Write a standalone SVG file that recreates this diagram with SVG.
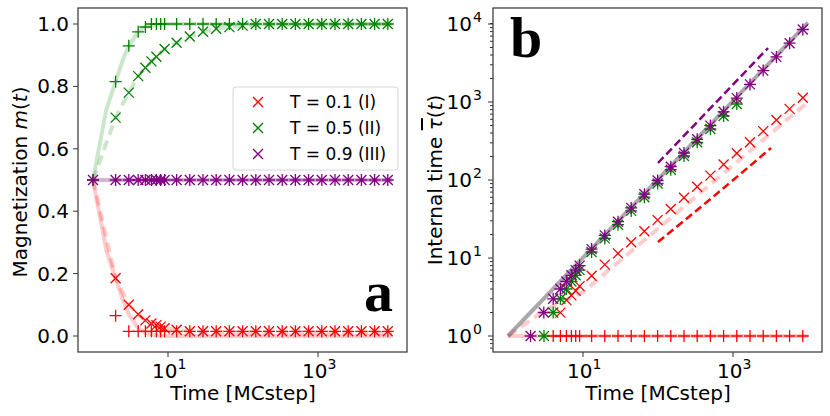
<svg xmlns="http://www.w3.org/2000/svg" xmlns:xlink="http://www.w3.org/1999/xlink" width="830" height="416" viewBox="0 0 830 416">
<style>
text{font-family:"DejaVu Sans",sans-serif;fill:#000}
.tk{font-size:20px}
.lab{font-size:20px;text-anchor:middle}
.lg{font-size:17px}
.ax{fill:none;stroke:#333;stroke-width:1.2}
.t{stroke:#333;stroke-width:1}
.r{stroke:#ff0000;fill:none;stroke-width:1.3}
.g{stroke:#008000;fill:none;stroke-width:1.3}
.p{stroke:#800080;fill:none;stroke-width:1.3}
.cr{stroke:#ff0000;opacity:.2;stroke-width:4;fill:none}
.cg{stroke:#008000;opacity:.2;stroke-width:4;fill:none}
.cp{stroke:#800080;opacity:.3;stroke-width:4;fill:none}
.d{stroke-dasharray:10,6}
.big{font-family:"Liberation Serif",serif;font-weight:bold;font-size:58px}
</style>
<defs>
<path id="x" d="M-5,-5L5,5M-5,5L5,-5"/>
<path id="pl" d="M-6,0H6M0,-6V6"/>
</defs>
<rect width="830" height="416" fill="#fff"/>
<g id="panel-a">
<rect class="ax" x="78" y="8" width="329" height="344"/>
<g class="t">
<path d="M78,24h-5M78,86.4h-5M78,148.8h-5M78,211.2h-5M78,273.6h-5M78,336h-5M168,352v5M318,352v5"/>
</g>
<g class="tk" text-anchor="end">
<text x="69" y="31">1.0</text><text x="69" y="93">0.8</text><text x="69" y="156">0.6</text><text x="69" y="218">0.4</text><text x="69" y="281">0.2</text><text x="69" y="343">0.0</text>
</g>
<text class="tk" x="152" y="378">10<tspan font-size="14" dy="-9">1</tspan></text>
<text class="tk" x="302" y="378">10<tspan font-size="14" dy="-9">3</tspan></text>
<text class="lab" x="243" y="400">Time [MCstep]</text>
<text class="lab" transform="translate(27,182) rotate(-90)">Magnetization <tspan font-style="italic">m</tspan>(<tspan font-style="italic">t</tspan>)</text>
<g id="curves-a">
<polyline class="cg" points="93,180 106.2,110 115.6,81.7 122.8,60 128.8,45.8 138.2,31.8 145.4,27 156.4,24.6 168,24 392,24"/>
<polyline class="cg d" points="93,180 115.6,117.6 128.8,92.6 138.2,76.1 151.4,61.4 164.6,49 176.6,42.7 189.8,36.5 203,31.8 216,28.7 229,27.1 256,25 392,24"/>
<polyline class="cr" points="93,180 106.2,250 115.6,278.3 122.8,300 128.8,314.2 138.2,328.2 145.4,333 156.4,335.4 168,336 392,336"/>
<polyline class="cr d" points="93,180 115.6,278.3 128.8,304.8 138.2,314.2 145.4,320.4 156.4,325.1 164.6,328.2 176.6,330 203,332 392,333"/>
<polyline class="cp" points="93,180 392,180"/>
</g>
<g id="markers-a">
<g class="g">
<use href="#pl" x="93" y="180"/><use href="#pl" x="115.6" y="81.7"/><use href="#pl" x="128.8" y="45.8"/><use href="#pl" x="138.2" y="31.8"/><use href="#pl" x="145.4" y="27"/><use href="#pl" x="151.4" y="24"/><use href="#pl" x="156.4" y="24"/><use href="#pl" x="160.7" y="24"/><use href="#pl" x="164.6" y="24"/><use href="#pl" x="176.6" y="24"/><use href="#pl" x="189.8" y="24"/><use href="#pl" x="203" y="24"/><use href="#pl" x="216.2" y="24"/><use href="#pl" x="229.4" y="24"/><use href="#pl" x="242.6" y="24"/><use href="#pl" x="255.8" y="24"/><use href="#pl" x="269" y="24"/><use href="#pl" x="282.2" y="24"/><use href="#pl" x="295.4" y="24"/><use href="#pl" x="308.6" y="24"/><use href="#pl" x="321.8" y="24"/><use href="#pl" x="335" y="24"/><use href="#pl" x="348.2" y="24"/><use href="#pl" x="361.4" y="24"/><use href="#pl" x="374.6" y="24"/><use href="#pl" x="387.8" y="24"/>
<use href="#x" x="115.6" y="117.6"/><use href="#x" x="128.8" y="92.6"/><use href="#x" x="138.2" y="76.1"/><use href="#x" x="145.4" y="67.7"/><use href="#x" x="151.4" y="61.4"/><use href="#x" x="156.4" y="56.8"/><use href="#x" x="164.6" y="49"/><use href="#x" x="176.6" y="42.7"/><use href="#x" x="189.8" y="36.5"/><use href="#x" x="203" y="31.8"/><use href="#x" x="216.2" y="28.7"/><use href="#x" x="229.4" y="27.1"/><use href="#x" x="242.6" y="25.6"/><use href="#x" x="255.8" y="24"/><use href="#x" x="269" y="24"/><use href="#x" x="282.2" y="24"/><use href="#x" x="295.4" y="24"/><use href="#x" x="308.6" y="24"/><use href="#x" x="321.8" y="24"/><use href="#x" x="335" y="24"/><use href="#x" x="348.2" y="24"/><use href="#x" x="361.4" y="24"/><use href="#x" x="374.6" y="24"/><use href="#x" x="387.8" y="24"/>
</g>
<g class="r">
<use href="#pl" x="115.6" y="315.7"/><use href="#pl" x="128.8" y="331.3"/><use href="#pl" x="138.2" y="331.3"/><use href="#pl" x="145.4" y="331.3"/><use href="#pl" x="151.4" y="331.3"/><use href="#pl" x="156.4" y="331.3"/><use href="#pl" x="160.7" y="331.3"/><use href="#pl" x="164.6" y="331.3"/><use href="#pl" x="176.6" y="331.3"/><use href="#pl" x="189.8" y="331.3"/><use href="#pl" x="203" y="331.3"/><use href="#pl" x="216.2" y="331.3"/><use href="#pl" x="229.4" y="331.3"/><use href="#pl" x="242.6" y="331.3"/><use href="#pl" x="255.8" y="331.3"/><use href="#pl" x="269" y="331.3"/><use href="#pl" x="282.2" y="331.3"/><use href="#pl" x="295.4" y="331.3"/><use href="#pl" x="308.6" y="331.3"/><use href="#pl" x="321.8" y="331.3"/><use href="#pl" x="335" y="331.3"/><use href="#pl" x="348.2" y="331.3"/><use href="#pl" x="361.4" y="331.3"/><use href="#pl" x="374.6" y="331.3"/><use href="#pl" x="387.8" y="331.3"/>
<use href="#x" x="115.6" y="278.3"/><use href="#x" x="128.8" y="304.8"/><use href="#x" x="138.2" y="314.2"/><use href="#x" x="145.4" y="320.4"/><use href="#x" x="151.4" y="323.5"/><use href="#x" x="156.4" y="325.1"/><use href="#x" x="160.7" y="326.6"/><use href="#x" x="164.6" y="328.2"/><use href="#x" x="176.6" y="329.8"/><use href="#x" x="189.8" y="331.3"/><use href="#x" x="203" y="331.3"/><use href="#x" x="216.2" y="331.3"/><use href="#x" x="229.4" y="331.3"/><use href="#x" x="242.6" y="331.3"/><use href="#x" x="255.8" y="331.3"/><use href="#x" x="269" y="331.3"/><use href="#x" x="282.2" y="331.3"/><use href="#x" x="295.4" y="331.3"/><use href="#x" x="308.6" y="331.3"/><use href="#x" x="321.8" y="331.3"/><use href="#x" x="335" y="331.3"/><use href="#x" x="348.2" y="331.3"/><use href="#x" x="361.4" y="331.3"/><use href="#x" x="374.6" y="331.3"/><use href="#x" x="387.8" y="331.3"/>
</g>
<g class="p">
<use href="#pl" x="93" y="180"/><use href="#pl" x="115.6" y="180"/><use href="#pl" x="128.8" y="180"/><use href="#pl" x="138.2" y="180"/><use href="#pl" x="145.4" y="180"/><use href="#pl" x="151.4" y="180"/><use href="#pl" x="156.4" y="180"/><use href="#pl" x="160.7" y="180"/><use href="#pl" x="164.6" y="180"/><use href="#pl" x="176.6" y="180"/><use href="#pl" x="189.8" y="180"/><use href="#pl" x="203" y="180"/><use href="#pl" x="216.2" y="180"/><use href="#pl" x="229.4" y="180"/><use href="#pl" x="242.6" y="180"/><use href="#pl" x="255.8" y="180"/><use href="#pl" x="269" y="180"/><use href="#pl" x="282.2" y="180"/><use href="#pl" x="295.4" y="180"/><use href="#pl" x="308.6" y="180"/><use href="#pl" x="321.8" y="180"/><use href="#pl" x="335" y="180"/><use href="#pl" x="348.2" y="180"/><use href="#pl" x="361.4" y="180"/><use href="#pl" x="374.6" y="180"/><use href="#pl" x="387.8" y="180"/>
<use href="#x" x="93" y="180"/><use href="#x" x="115.6" y="180"/><use href="#x" x="128.8" y="180"/><use href="#x" x="138.2" y="180"/><use href="#x" x="145.4" y="180"/><use href="#x" x="151.4" y="180"/><use href="#x" x="156.4" y="180"/><use href="#x" x="160.7" y="180"/><use href="#x" x="164.6" y="180"/><use href="#x" x="176.6" y="180"/><use href="#x" x="189.8" y="180"/><use href="#x" x="203" y="180"/><use href="#x" x="216.2" y="180"/><use href="#x" x="229.4" y="180"/><use href="#x" x="242.6" y="180"/><use href="#x" x="255.8" y="180"/><use href="#x" x="269" y="180"/><use href="#x" x="282.2" y="180"/><use href="#x" x="295.4" y="180"/><use href="#x" x="308.6" y="180"/><use href="#x" x="321.8" y="180"/><use href="#x" x="335" y="180"/><use href="#x" x="348.2" y="180"/><use href="#x" x="361.4" y="180"/><use href="#x" x="374.6" y="180"/><use href="#x" x="387.8" y="180"/>
</g>
</g>
<g id="legend">
<rect x="233" y="87" width="165" height="83" rx="3" fill="#fff" fill-opacity="0.8" stroke="#d6d6d6"/>
<use class="r" href="#x" x="258" y="102"/><use class="g" href="#x" x="258" y="128"/><use class="p" href="#x" x="258" y="154"/>
<text class="lg" x="290" y="108">T = 0.1 (I)</text>
<text class="lg" x="290" y="134">T = 0.5 (II)</text>
<text class="lg" x="290" y="160">T = 0.9 (III)</text>
</g>
<text class="big" x="364" y="311">a</text>
</g>
<g id="panel-b">
<rect class="ax" x="493" y="8" width="329" height="344"/>
<g class="t">
<path d="M493,336h-5M493,258h-5M493,180h-5M493,102h-5M493,24h-5M583,352v5M733,352v5"/>
<path d="M493,339.6h-3M493,343.6h-3M493,348.1h-3M493,23.5h-3"/>
<path d="M493,312.5h-3M493,298.8h-3M493,289h-3M493,281.5h-3M493,275.3h-3M493,270.1h-3M493,265.6h-3M493,261.6h-3"/>
<path d="M493,234.5h-3M493,220.8h-3M493,211h-3M493,203.5h-3M493,197.3h-3M493,192.1h-3M493,187.6h-3M493,183.6h-3"/>
<path d="M493,156.5h-3M493,142.8h-3M493,133h-3M493,125.5h-3M493,119.3h-3M493,114.1h-3M493,109.6h-3M493,105.6h-3"/>
<path d="M493,78.5h-3M493,64.8h-3M493,55h-3M493,47.5h-3M493,41.3h-3M493,36.1h-3M493,31.6h-3M493,27.6h-3"/>
</g>
<g class="tk" text-anchor="end">
<text x="472" y="343">10</text><text x="472" y="265">10</text><text x="472" y="187">10</text><text x="472" y="109">10</text><text x="472" y="31">10</text>
</g>
<g font-size="14" font-family="DejaVu Sans,sans-serif">
<text x="473" y="334">0</text><text x="473" y="256">1</text><text x="473" y="178">2</text><text x="473" y="100">3</text><text x="473" y="22">4</text>
</g>
<text class="tk" x="567" y="378">10<tspan font-size="14" dy="-9">1</tspan></text>
<text class="tk" x="717" y="378">10<tspan font-size="14" dy="-9">3</tspan></text>
<text class="lab" x="658" y="400">Time [MCstep]</text>
<text class="lab" transform="translate(442,180) rotate(-90)">Internal time <tspan font-style="italic" text-decoration="overline">τ</tspan>(<tspan font-style="italic">t</tspan>)</text>
<g id="curves-b">
<polyline class="cr" points="508,336 808,336"/>
<polyline class="cr d" points="508,336 545,310 583,292 808,102"/>
<polyline class="cp" points="508,336 808,22.7"/>
<polyline class="cg" points="508,336 808,22.7"/>
<line x1="658" y1="163" x2="768" y2="48" stroke="#800080" stroke-width="2.5" stroke-dasharray="8,4"/>
<path d="M658,242 Q710,200 771,148" fill="none" stroke="#ff0000" stroke-width="2.5" stroke-dasharray="8,4"/>
</g>
<g id="markers-b">
<g class="r">
<use href="#pl" x="553.2" y="336"/><use href="#pl" x="560.4" y="336"/><use href="#pl" x="566.4" y="336"/><use href="#pl" x="571.4" y="336"/><use href="#pl" x="575.7" y="336"/><use href="#pl" x="579.6" y="336"/><use href="#pl" x="591.6" y="336"/><use href="#pl" x="604.8" y="336"/><use href="#pl" x="618" y="336"/><use href="#pl" x="631.2" y="336"/><use href="#pl" x="644.4" y="336"/><use href="#pl" x="657.6" y="336"/><use href="#pl" x="670.8" y="336"/><use href="#pl" x="684" y="336"/><use href="#pl" x="697.2" y="336"/><use href="#pl" x="710.4" y="336"/><use href="#pl" x="723.6" y="336"/><use href="#pl" x="736.8" y="336"/><use href="#pl" x="750" y="336"/><use href="#pl" x="763.2" y="336"/><use href="#pl" x="776.4" y="336"/><use href="#pl" x="789.6" y="336"/><use href="#pl" x="802.8" y="336"/>
<use href="#x" x="560.4" y="312.6"/><use href="#x" x="566.4" y="300.1"/><use href="#x" x="571.4" y="295.4"/><use href="#x" x="575.7" y="290.8"/><use href="#x" x="579.6" y="286.1"/><use href="#x" x="591.6" y="275.7"/><use href="#x" x="604.8" y="264.6"/><use href="#x" x="618" y="253.4"/><use href="#x" x="631.2" y="242.3"/><use href="#x" x="644.4" y="231.2"/><use href="#x" x="657.6" y="220.1"/><use href="#x" x="670.8" y="209"/><use href="#x" x="684" y="197.8"/><use href="#x" x="697.2" y="186.7"/><use href="#x" x="710.4" y="175.6"/><use href="#x" x="723.6" y="164.5"/><use href="#x" x="736.8" y="153.3"/><use href="#x" x="750" y="142.2"/><use href="#x" x="763.2" y="131.1"/><use href="#x" x="776.4" y="120"/><use href="#x" x="789.6" y="108.9"/><use href="#x" x="802.8" y="97.7"/>
</g>
<g class="g">
<use href="#x" x="544" y="336"/><use href="#x" x="553.2" y="312.5"/><use href="#x" x="560.4" y="298.8"/><use href="#x" x="566.4" y="289"/><use href="#x" x="571.4" y="281.5"/><use href="#x" x="575.7" y="275.3"/><use href="#x" x="579.6" y="270.1"/><use href="#x" x="591.6" y="252"/><use href="#x" x="604.8" y="238.4"/><use href="#x" x="618" y="224.7"/><use href="#x" x="631.2" y="210.9"/><use href="#x" x="644.4" y="197.2"/><use href="#x" x="657.6" y="183.5"/><use href="#x" x="670.8" y="169.7"/><use href="#x" x="684" y="156"/><use href="#x" x="697.2" y="142.3"/><use href="#x" x="710.4" y="129"/><use href="#x" x="723.6" y="116"/><use href="#x" x="736.8" y="104"/>
<use href="#pl" x="544" y="336"/><use href="#pl" x="553.2" y="312.5"/><use href="#pl" x="560.4" y="298.8"/><use href="#pl" x="566.4" y="289"/><use href="#pl" x="571.4" y="281.5"/><use href="#pl" x="575.7" y="275.3"/><use href="#pl" x="579.6" y="270.1"/><use href="#pl" x="591.6" y="252"/><use href="#pl" x="604.8" y="238.4"/><use href="#pl" x="618" y="224.7"/><use href="#pl" x="631.2" y="210.9"/><use href="#pl" x="644.4" y="197.2"/><use href="#pl" x="657.6" y="183.5"/><use href="#pl" x="670.8" y="169.7"/><use href="#pl" x="684" y="156"/><use href="#pl" x="697.2" y="142.3"/><use href="#pl" x="710.4" y="129"/><use href="#pl" x="723.6" y="116"/><use href="#pl" x="736.8" y="104"/>
</g>
<g class="p">
<use href="#x" x="530.6" y="336"/><use href="#x" x="543.8" y="312.5"/><use href="#x" x="553.2" y="298.8"/><use href="#x" x="560.4" y="289"/><use href="#x" x="566.4" y="281.5"/><use href="#x" x="571.4" y="275.3"/><use href="#x" x="575.7" y="270.1"/><use href="#x" x="579.6" y="265.6"/><use href="#x" x="591.6" y="249.1"/><use href="#x" x="604.8" y="235.4"/><use href="#x" x="618" y="221.7"/><use href="#x" x="631.2" y="207.9"/><use href="#x" x="644.4" y="194.2"/><use href="#x" x="657.6" y="180.5"/><use href="#x" x="670.8" y="166.7"/><use href="#x" x="684" y="153"/><use href="#x" x="697.2" y="139.3"/><use href="#x" x="710.4" y="125.6"/><use href="#x" x="723.6" y="111.8"/><use href="#x" x="736.8" y="98.1"/><use href="#x" x="750" y="84.4"/><use href="#x" x="763.2" y="70.6"/><use href="#x" x="776.4" y="56.9"/><use href="#x" x="789.6" y="43.2"/><use href="#x" x="802.8" y="29.5"/>
<use href="#pl" x="530.6" y="336"/><use href="#pl" x="543.8" y="312.5"/><use href="#pl" x="553.2" y="298.8"/><use href="#pl" x="560.4" y="289"/><use href="#pl" x="566.4" y="281.5"/><use href="#pl" x="571.4" y="275.3"/><use href="#pl" x="575.7" y="270.1"/><use href="#pl" x="579.6" y="265.6"/><use href="#pl" x="591.6" y="249.1"/><use href="#pl" x="604.8" y="235.4"/><use href="#pl" x="618" y="221.7"/><use href="#pl" x="631.2" y="207.9"/><use href="#pl" x="644.4" y="194.2"/><use href="#pl" x="657.6" y="180.5"/><use href="#pl" x="670.8" y="166.7"/><use href="#pl" x="684" y="153"/><use href="#pl" x="697.2" y="139.3"/><use href="#pl" x="710.4" y="125.6"/><use href="#pl" x="723.6" y="111.8"/><use href="#pl" x="736.8" y="98.1"/><use href="#pl" x="750" y="84.4"/><use href="#pl" x="763.2" y="70.6"/><use href="#pl" x="776.4" y="56.9"/><use href="#pl" x="789.6" y="43.2"/><use href="#pl" x="802.8" y="29.5"/>
</g>
</g>
<text class="big" x="510" y="57">b</text>
</g>
</svg>
